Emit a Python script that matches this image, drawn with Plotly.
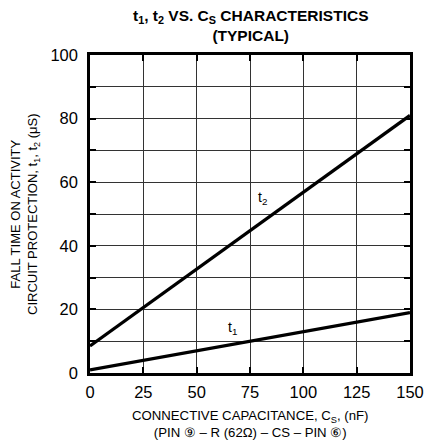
import plotly.graph_objects as go

cs_nf = [0, 150]
t1_us = [1.0, 19.0]
t2_us = [8.5, 81.0]
x_ticks = [0, 25, 50, 75, 100, 125, 150]
y_ticks = list(range(0, 101, 10))

FONT = "Liberation Sans, Arial, sans-serif"

fig = go.Figure()
fig.add_trace(go.Scatter(x=cs_nf, y=t2_us, mode="lines",
                         line=dict(color="black", width=3.2), showlegend=False))
fig.add_trace(go.Scatter(x=cs_nf, y=t1_us, mode="lines",
                         line=dict(color="black", width=3.2), showlegend=False))

fig.add_annotation(x=81, y=55, text="t<sub>2</sub>", showarrow=False,
                   font=dict(size=14, color="black", family=FONT))
fig.add_annotation(x=67, y=14.3, text="t<sub>1</sub>", showarrow=False,
                   font=dict(size=14, color="black", family=FONT))

# Title
fig.add_annotation(xref="paper", yref="paper", x=0.5, y=1, yshift=29.5,
                   xanchor="center", yanchor="middle", showarrow=False,
                   text="<b>t<sub>1</sub>, t<sub>2</sub> VS. C<sub>S</sub> CHARACTERISTICS<br>(TYPICAL)</b>",
                   font=dict(size=15.5, color="black", family=FONT))
# X axis title
fig.add_annotation(xref="paper", yref="paper", x=0.5, y=0, yshift=-51,
                   xanchor="center", yanchor="middle", showarrow=False,
                   text="CONNECTIVE CAPACITANCE, C<sub>S</sub>, (nF)<br>(PIN \u2468 \u2013 R (62\u03a9) \u2013 CS \u2013 PIN \u2465)",
                   font=dict(size=13.2, color="black", family=FONT))
# Y axis title
fig.add_annotation(xref="paper", yref="paper", x=0, y=0.5, xshift=-65,
                   xanchor="center", yanchor="middle", showarrow=False, textangle=-90,
                   text="FALL TIME ON ACTIVITY<br>CIRCUIT PROTECTION, t<sub>1</sub>, t<sub>2</sub> (\u03bcS)",
                   font=dict(size=13, color="black", family=FONT))

fig.update_layout(
    width=426, height=446,
    margin=dict(l=90, r=16, t=55, b=73, autoexpand=False),
    paper_bgcolor="white", plot_bgcolor="white",
    font=dict(family=FONT, color="black"),
)
fig.update_xaxes(range=[0, 150], tickvals=x_ticks, ticktext=[str(v) for v in x_ticks],
                 showgrid=True, gridcolor="#333333", gridwidth=1,
                 showline=True, linecolor="black", linewidth=2.5, mirror="ticks",
                 ticks="inside", ticklen=6, tickwidth=2, tickcolor="black",
                 zeroline=False, tickfont=dict(size=16.5, color="black"),
                 ticklabelstandoff=2, automargin=False)
fig.update_yaxes(range=[0, 100], tickvals=y_ticks,
                 ticktext=[str(v) if v % 20 == 0 else "" for v in y_ticks],
                 showgrid=True, gridcolor="#333333", gridwidth=1,
                 showline=True, linecolor="black", linewidth=2.5, mirror="ticks",
                 ticks="inside", ticklen=6, tickwidth=2, tickcolor="black",
                 zeroline=False, tickfont=dict(size=16.5, color="black"),
                 ticklabelstandoff=6, automargin=False)

fig.write_html("out.html", config={"displayModeBar": False},
               post_script="document.body.style.margin='0';document.body.style.overflow='hidden';")
